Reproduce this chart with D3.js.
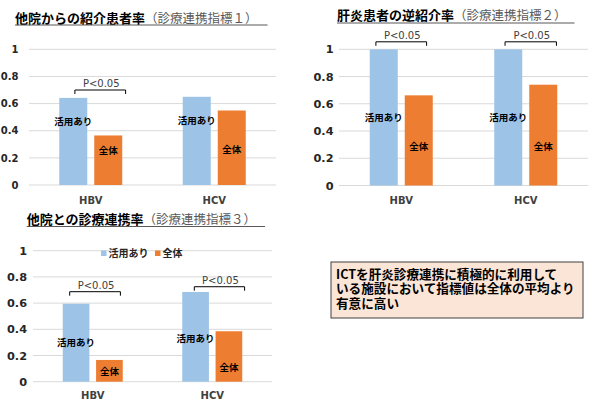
<!DOCTYPE html>
<html><head><meta charset="utf-8">
<script src="https://cdn.jsdelivr.net/npm/d3@7"></script>
<style>
html,body{margin:0;padding:0;background:#fff;}
svg{display:block;}
</style></head>
<body>
<svg id="c" width="589" height="403"></svg>
<script>
// ---- data ----
const categories = ["HBV", "HCV"];
const seriesNames = ["活用あり", "全体"];
const tickValues = [0, 0.2, 0.4, 0.6, 0.8, 1];
const tickLabels = ["0", "0.2", "0.4", "0.6", "0.8", "1"];
// indicator 1
const ind1Active = [0.642, 0.65];
const ind1All = [0.365, 0.549];
// indicator 2
const ind2Active = [1.0, 1.0];
const ind2All = [0.662, 0.74];
// indicator 3
const ind3Active = [0.595, 0.685];
const ind3All = [0.166, 0.385];
const titles = [
  ["他院からの紹介患者率", "（診療連携指標１）"],
  ["肝炎患者の逆紹介率", "（診療連携指標２）"],
  ["他院との診療連携率", "（診療連携指標３）"]
];
const sigLabel = "P<0.05";
const noteLines = ["ICTを肝炎診療連携に積極的に利用して", "いる施設において指標値は全体の平均より", "有意に高い"];

const colors = ["#9DC3E6", "#ED7D31"];
const svg = d3.select("#c");
svg.append("rect").attr("width",589).attr("height",403).attr("fill","#fff");

const latin = "'DejaVu Sans', Verdana, sans-serif";
const cjk = "'Noto Sans CJK JP', 'Noto Sans', sans-serif";

// layout per chart
const charts = [
  { active: ind1Active, all: ind1All, title: titles[0],
    x0: 29, x1: 276, yTop: 49.3, yBot: 185, tickRight: 18.5, tickSize: 10, catY: 204,
    titleX: 15, titleY: 22.5, ulY: 25, ulExtra: 10, group: 63,
    labelPos: [[0.465, 0.257],[0.478, 0.265]],
    brackets: [{cat:0, level:0.70, dx:9.5, w:50.7}], legend:false },
  { active: ind2Active, all: ind2All, title: titles[1],
    x0: 339, x1: 588, yTop: 49.3, yBot: 185.5, tickRight: 333.5, tickSize: 11.3, catY: 204,
    titleX: 337, titleY: 19.5, ulY: 23, ulExtra: 8, group: 63,
    labelPos: [[0.50, 0.29],[0.50, 0.29]],
    brackets: [{cat:0, level:1.055, dx:0, w:50.7},{cat:1, level:1.055, dx:5, w:51.4}], legend:false },
  { active: ind3Active, all: ind3All, title: titles[2],
    x0: 33, x1: 272, yTop: 250.7, yBot: 381.7, tickRight: 27, tickSize: 11.3, catY: 399,
    titleX: 26.7, titleY: 223.5, ulY: 226.5, ulExtra: 9, group: 60,
    labelPos: [[0.298, 0.076],[0.331, 0.11]],
    brackets: [{cat:0, level:0.687, dx:2.3, w:50.7},{cat:1, level:0.725, dx:7.2, w:50.3}], legend:true }
];

charts.forEach(ch => {
  const g = svg.append("g");
  const y = d3.scaleLinear().domain([0,1]).range([ch.yBot, ch.yTop]);
  const x = d3.scaleBand().domain(categories).range([ch.x0, ch.x1]).padding(0);
  const xs = d3.scaleBand().domain(seriesNames)
      .range([-ch.group/2, ch.group/2]).paddingInner(0.2).paddingOuter(0);

  // gridlines
  g.selectAll("line.grid").data(tickValues).enter().append("line")
    .attr("x1", ch.x0).attr("x2", ch.x1)
    .attr("y1", d => y(d)).attr("y2", d => y(d))
    .attr("stroke", "#d9d9d9").attr("stroke-width", 1);
  // tick labels
  g.selectAll("text.tick").data(tickValues).enter().append("text")
    .attr("x", ch.tickRight).attr("y", d => y(d) + ch.tickSize*0.37)
    .attr("text-anchor", "end")
    .attr("font-family", latin).attr("font-weight", "bold").attr("font-size", ch.tickSize)
    .attr("fill", "#262626")
    .text((d,i) => tickLabels[i]);

  // bars
  const rows = categories.map((c,i) => ({cat:c, i, vals:[ch.active[i], ch.all[i]]}));
  rows.forEach(r => {
    const cx = x(r.cat) + x.bandwidth()/2;
    r.vals.forEach((v, s) => {
      g.append("rect")
        .attr("x", cx + xs(seriesNames[s])).attr("width", xs.bandwidth())
        .attr("y", y(v)).attr("height", y(0) - y(v))
        .attr("fill", colors[s]);
      g.append("text")
        .attr("x", cx + xs(seriesNames[s]) + xs.bandwidth()/2)
        .attr("y", y(ch.labelPos[r.i][s]) + 3.5)
        .attr("text-anchor", "middle")
        .attr("font-family", cjk).attr("font-weight", "bold").attr("font-size", 9.5)
        .attr("fill", "#000")
        .text(seriesNames[s]);
    });
    // category label
    g.append("text").attr("x", cx).attr("y", ch.catY)
      .attr("text-anchor", "middle")
      .attr("font-family", latin).attr("font-weight", "bold").attr("font-size", 10)
      .attr("fill", "#404040").text(r.cat);
  });

  // brackets
  ch.brackets.forEach(b => {
    const cx = x(categories[b.cat]) + x.bandwidth()/2 + b.dx;
    const l = cx - b.w/2, rr = cx + b.w/2, yy = y(b.level);
    g.append("path")
      .attr("d", `M${l},${yy+4}V${yy}H${rr}V${yy+4}`)
      .attr("fill","none").attr("stroke","#000").attr("stroke-width",1);
    g.append("text").attr("x", cx + 1).attr("y", yy - 3)
      .attr("text-anchor","middle")
      .attr("font-family", latin).attr("font-size", 10).attr("fill","#404040")
      .text(sigLabel);
  });

  // title
  const t = g.append("text").attr("x", ch.titleX).attr("y", ch.titleY)
    .attr("font-family", cjk);
  t.append("tspan").attr("font-weight","bold").attr("font-size", 13).attr("fill","#000").text(ch.title[0]);
  t.append("tspan").attr("font-weight","normal").attr("font-size", 12.5).attr("fill","#595959").text(ch.title[1]);
  const tw = t.node().getComputedTextLength();
  g.append("line").attr("x1", ch.titleX).attr("x2", ch.titleX + tw + ch.ulExtra)
    .attr("y1", ch.ulY).attr("y2", ch.ulY)
    .attr("stroke", "#595959").attr("stroke-width", 1.2);

  // legend
  if (ch.legend) {
    const lg = g.append("g");
    const items = [{x:101, s:0},{x:155, s:1}];
    items.forEach(it => {
      lg.append("rect").attr("x", it.x).attr("y", 250.5).attr("width", 5.5).attr("height", 5.5)
        .attr("fill", colors[it.s]);
      lg.append("text").attr("x", it.x + 7.5).attr("y", 257)
        .attr("font-family", cjk).attr("font-weight","bold").attr("font-size", 10)
        .attr("fill", "#262626").text(seriesNames[it.s]);
    });
  }
});

// note box
svg.append("rect").attr("x", 331).attr("y", 262).attr("width", 252).attr("height", 56)
  .attr("fill", "#FBE5D6").attr("stroke", "#404040").attr("stroke-width", 1);
const note = svg.append("text")
  .attr("font-family", cjk).attr("font-weight", "bold").attr("font-size", 12.6)
  .attr("fill", "#000");
note.selectAll("tspan").data(noteLines).enter().append("tspan")
  .attr("x", 336).attr("y", (d,i) => 278.5 + i*14.6)
  .text(d => d);
</script>
</body></html>
